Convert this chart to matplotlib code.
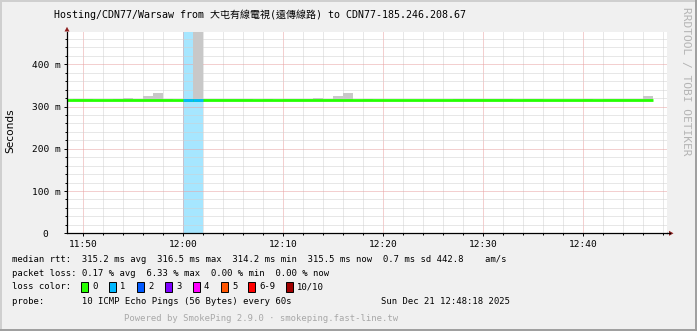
import matplotlib
matplotlib.use("Agg")
import matplotlib.pyplot as plt
from matplotlib.patches import Rectangle, Polygon
from matplotlib.lines import Line2D
from matplotlib.ticker import FixedLocator, FixedFormatter

plt.rcParams['font.family'] = ['DejaVu Sans Mono', 'Noto Sans CJK TC']

W, H = 697, 331

# one bin per minute, minutes relative to 11:50 (bin start)
bin_start = list(range(-2, 57))
median_ms = [314.6, 316.2, 316.0, 314.5, 314.7, 316.1, 316.3, 316.0, 316.2, 316.0,
             316.1, 314.6, 315.8, 314.6, 314.5, 316.1, 316.3, 314.8, 314.6, 314.7,
             316.0, 314.5, 316.2, 316.4, 316.1, 316.0, 316.2, 316.5, 315.9, 314.6,
             316.0, 314.6, 314.4, 314.7, 314.5, 314.6, 314.3, 314.7, 314.5, 316.1,
             314.6, 316.0, 315.0, 315.1, 316.2, 314.5, 316.0, 316.1, 314.6, 314.4,
             314.7, 314.6, 316.0, 314.5, 316.1, 316.3, 316.0, 314.6, 316.2]
smoke_max = [316.0, 318.0, 318.0, 316.0, 316.5, 318.0, 320.0, 318.0, 325.0, 332.0,
             318.0, 316.5, 318.0, 520.0, 318.5, 318.0, 318.0, 319.0, 319.0, 316.5,
             318.0, 316.5, 318.0, 318.0, 318.0, 320.0, 318.0, 326.0, 333.0, 316.5,
             318.0, 316.5, 316.0, 316.5, 316.5, 316.5, 316.0, 316.5, 316.5, 318.0,
             319.0, 318.0, 318.5, 318.5, 318.0, 316.5, 318.0, 318.0, 316.5, 316.0,
             316.5, 316.5, 318.0, 316.5, 318.0, 318.0, 318.0, 319.0, 326.0]
loss_bins = [10, 11]  # bins (minute start) with 1/10 loss

x_ticks = [0, 10, 20, 30, 40, 50]
x_labels = ['11:50', '12:00', '12:10', '12:20', '12:30', '12:40']
y_ticks = [0, 100, 200, 300, 400]
y_labels = ['0  ', '100 m', '200 m', '300 m', '400 m']

loss_names = ['0', '1', '2', '3', '4', '5', '6-9', '10/10']
loss_colors = ['#26ff00', '#00b8ff', '#0059ff', '#7e00ff', '#ff00ff', '#ff5500', '#ff0000', '#a10000']

legend_rows = [
    'median rtt:  315.2 ms avg  316.5 ms max  314.2 ms min  315.5 ms now  0.7 ms sd 442.8    am/s',
    'packet loss: 0.17 % avg  6.33 % max  0.00 % min  0.00 % now',
]
probe_text = 'probe:       10 ICMP Echo Pings (56 Bytes) every 60s'
date_text = 'Sun Dec 21 12:48:18 2025'


def fx(x):
    return x / W


def fy(y):
    return 1 - y / H


fig = plt.figure(figsize=(W / 100, H / 100), dpi=100, facecolor='#f0f0f0')
ax = fig.add_axes([fx(67), fy(233.3), fx(600), (233.3 - 32.3) / H])
ax.set_facecolor('white')
ax.set_xlim(-1.6, 58.4)
ax.set_ylim(0, 475.7)

# loss background
for b in loss_bins:
    ax.axvspan(b, b + 1, color='#a6e6ff', lw=0, zorder=0.5)

# grid
dot = (0, (1, 1))
for v in range(0, 59, 2):
    if v % 10:
        ax.axvline(v, color='#d0d0d0', lw=0.72, ls=dot, zorder=1)
for v in x_ticks:
    ax.axvline(v, color='#e8a0a0', lw=0.72, ls=dot, zorder=1)
for v in range(20, 475, 20):
    if v % 100:
        ax.axhline(v, color='#d0d0d0', lw=0.72, ls=dot, zorder=1)
for v in y_ticks[1:]:
    ax.axhline(v, color='#e8a0a0', lw=0.72, ls=dot, zorder=1)

# smoke
lows = [m - 1.5 for m in median_ms]
ax.bar(bin_start, [hi - lo for hi, lo in zip(smoke_max, lows)], bottom=lows,
       width=1, align='edge', color='#c8c8c8', lw=0, zorder=2)

# median line
xs = bin_start + [bin_start[-1] + 1]
ys = median_ms + [median_ms[-1]]
ax.step(xs, ys, where='post', color='#26ff00', lw=2.0, zorder=3, solid_capstyle='butt')
for b in loss_bins:
    i = bin_start.index(b)
    ax.hlines(median_ms[i], b, b + 1, color='#00b8ff', lw=2.0, zorder=4)

# axes and ticks
for s in ['top', 'right']:
    ax.spines[s].set_visible(False)
for s in ['bottom', 'left']:
    ax.spines[s].set_linewidth(0.9)
    ax.spines[s].set_zorder(5)
ax.xaxis.set_major_locator(FixedLocator(x_ticks))
ax.xaxis.set_major_formatter(FixedFormatter(x_labels))
ax.xaxis.set_minor_locator(FixedLocator([v for v in range(0, 59, 2) if v % 10]))
ax.yaxis.set_major_locator(FixedLocator(y_ticks))
ax.yaxis.set_major_formatter(FixedFormatter(y_labels))
ax.yaxis.set_minor_locator(FixedLocator([v for v in range(20, 475, 20) if v % 100]))
ax.tick_params(which='major', length=2.2, width=0.7, labelsize=6.8, pad=2.6)
ax.tick_params(which='minor', length=1.4, width=0.7)

# axis extensions and arrows
fig.add_artist(Line2D([fx(667), fx(669.5)], [fy(233.3), fy(233.3)], color='black', lw=0.9))
arrow_c = '#8f1f1f'
fig.add_artist(Polygon([(fx(669), fy(230.8)), (fx(669), fy(235.8)), (fx(673.5), fy(233.3))],
                       closed=True, color=arrow_c, lw=0))
fig.add_artist(Polygon([(fx(64.5), fy(31.5)), (fx(69.5), fy(31.5)), (fx(67), fy(26.8))],
                       closed=True, color=arrow_c, lw=0))

# titles
fig.text(fx(260.5), fy(15), 'Hosting/CDN77/Warsaw from 大屯有線電視(遠傳線路) to CDN77-185.246.208.67',
         ha='center', va='center', fontsize=7.2)
fig.text(fx(10), fy(131), 'Seconds', rotation=90, ha='center', va='center',
         fontsize=7.6, family='DejaVu Sans')
fig.text(fx(686), fy(81), 'RRDTOOL / TOBI OETIKER', rotation=-90, ha='center', va='center',
         fontsize=8.1, color='#b4b4b4')

# legend
lfs = 6.4
for y, t in zip([259.3, 273.3], legend_rows):
    fig.text(fx(12), fy(y), t, ha='left', va='center', fontsize=lfs)
fig.text(fx(12), fy(301.7), probe_text, ha='left', va='center', fontsize=lfs)
fig.text(fx(510), fy(301.7), date_text, ha='right', va='center', fontsize=lfs)

fig.text(fx(12), fy(286.7), 'loss color:', ha='left', va='center', fontsize=lfs)
box_x = [81, 109, 137, 165, 193, 221, 248, 286]
for bx, name, c in zip(box_x, loss_names, loss_colors):
    fig.add_artist(Rectangle((fx(bx), fy(291.7)), fx(6.5), 10 / H, facecolor=c,
                             edgecolor='black', lw=0.7))
    fig.text(fx(bx + 11), fy(286.7), name, ha='left', va='center', fontsize=lfs)

fig.text(fx(261), fy(318.3), 'Powered by SmokePing 2.9.0 · smokeping.fast-line.tw',
         ha='center', va='center', fontsize=lfs, color='#a8a8a8')

# frame shading
fig.add_artist(Line2D([0, 1], [fy(0.5), fy(0.5)], color='#cfcfcf', lw=1.4))
fig.add_artist(Line2D([fx(0.5), fx(0.5)], [0, 1], color='#cfcfcf', lw=1.4))
fig.add_artist(Line2D([0, 1], [fy(330.3), fy(330.3)], color='#9e9e9e', lw=1.4))
fig.add_artist(Line2D([fx(696.3), fx(696.3)], [0, 1], color='#9e9e9e', lw=1.4))

fig.savefig('out.png', dpi=100, facecolor=fig.get_facecolor())
